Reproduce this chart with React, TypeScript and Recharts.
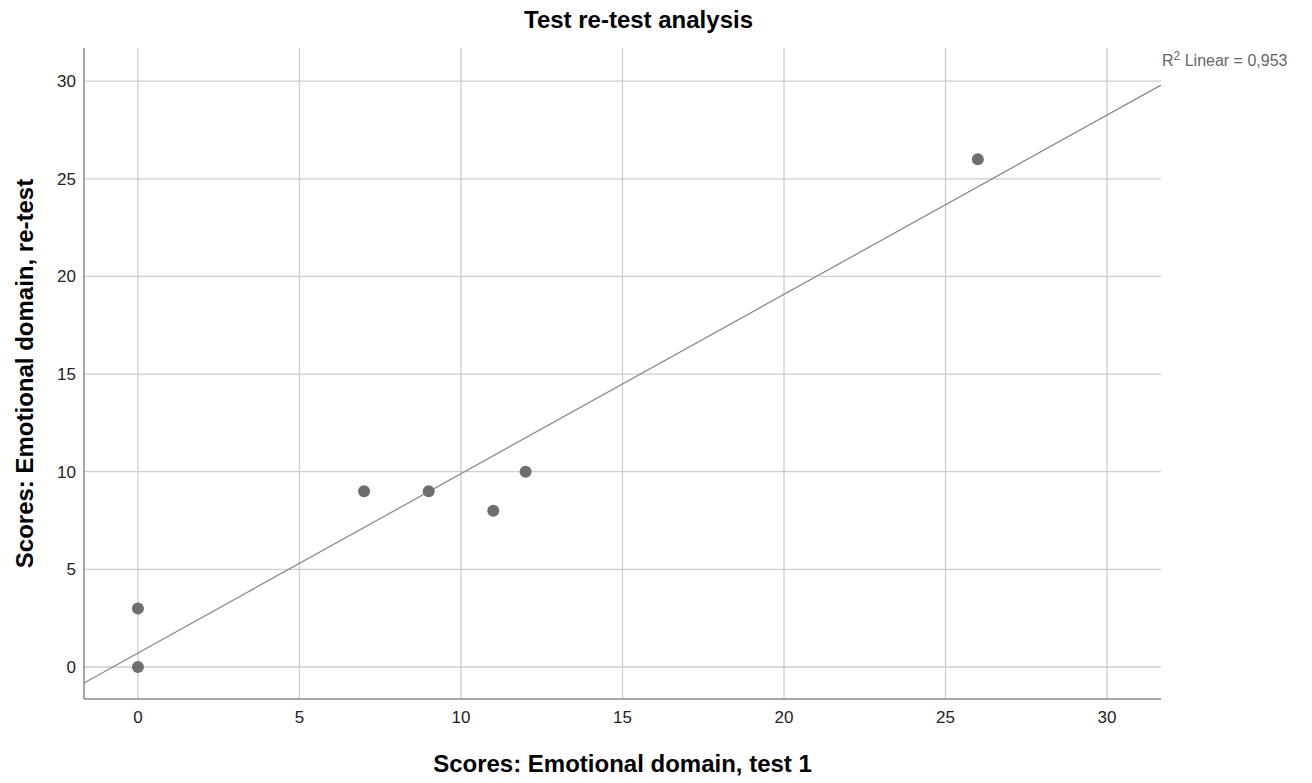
import React from 'react';
import {
  ScatterChart,
  Scatter,
  XAxis,
  YAxis,
  ReferenceLine,
  Label
} from 'recharts';

// test 1 vs re-test scores (emotional domain)
const testScores = [0, 0, 7, 9, 11, 12, 26];
const retestScores = [0, 3, 9, 9, 8, 10, 26];

const xTicks = [0, 5, 10, 15, 20, 25, 30];
const yTicks = [0, 5, 10, 15, 20, 25, 30];

// fit line end points
const fitLineX = [-1.67, 31.67];
const fitLineY = [-0.82, 29.8];
const rSquaredLabel = '0,953';

const points = testScores.map((x, i) => ({ x, y: retestScores[i] }));

const FONT = 'Arial, "Liberation Sans", sans-serif';
const AXIS_COLOR = '#8a8a8a';
const GRID_COLOR = '#cdcdcd';
const DOT_COLOR = '#6e6e6e';

const Dot = (props: any) => <circle cx={props.cx} cy={props.cy} r={6} fill={DOT_COLOR} />;

const App: React.FC = () => {
  return (
    <div style={{ position: 'absolute', left: 0, top: 0, width: 1312, height: 783, background: '#fff', fontFamily: FONT }}>
      <div
        style={{
          position: 'absolute',
          left: 0,
          width: 1277,
          top: 6,
          textAlign: 'center',
          fontWeight: 'bold',
          fontSize: 24,
          color: '#000'
        }}
      >
        Test re-test analysis
      </div>
      <div style={{ position: 'absolute', left: 1162, top: 52, fontSize: 16, color: '#666', whiteSpace: 'nowrap' }}>
        R<sup style={{ fontSize: 12, verticalAlign: 6, lineHeight: 0 }}>2</sup> Linear = {rSquaredLabel}
      </div>
      <ScatterChart
        width={1312}
        height={783}
        margin={{ top: 48, right: 151, bottom: 0, left: 34 }}
        style={{ fontFamily: FONT }}
      >
        <XAxis
          type="number"
          dataKey="x"
          domain={[-1.67, 31.67]}
          ticks={xTicks}
          allowDataOverflow
          axisLine={{ stroke: AXIS_COLOR, strokeWidth: 1.5 }}
          tickLine={false}
          tickSize={0}
          tickMargin={12}
          height={84}
          tick={{ fill: '#222', fontSize: 17 }}
        >
          <Label
            value="Scores: Emotional domain, test 1"
            position="insideBottom"
            offset={11}
            style={{ fontWeight: 'bold', fontSize: 24, fill: '#000' }}
          />
        </XAxis>
        <YAxis
          type="number"
          dataKey="y"
          domain={[-1.64, 31.7]}
          ticks={yTicks}
          allowDataOverflow
          axisLine={{ stroke: AXIS_COLOR, strokeWidth: 1.5 }}
          tickLine={false}
          tickSize={0}
          tickMargin={8}
          width={50}
          tick={{ fill: '#222', fontSize: 17 }}
        >
          <Label
            value="Scores: Emotional domain, re-test"
            angle={-90}
            position="insideLeft"
            offset={-10}
            style={{ textAnchor: 'middle', fontWeight: 'bold', fontSize: 24, fill: '#000' }}
          />
        </YAxis>
        {xTicks.map((t) => (
          <ReferenceLine key={`gx${t}`} x={t} stroke={GRID_COLOR} strokeWidth={1.3} />
        ))}
        {yTicks.map((t) => (
          <ReferenceLine key={`gy${t}`} y={t} stroke={GRID_COLOR} strokeWidth={1.3} />
        ))}
        <ReferenceLine
          segment={[
            { x: fitLineX[0], y: fitLineY[0] },
            { x: fitLineX[1], y: fitLineY[1] }
          ]}
          stroke="#8c8c8c"
          strokeWidth={1.3}
        />
        <Scatter data={points} shape={Dot} isAnimationActive={false} />
      </ScatterChart>
    </div>
  );
};

export default App;
